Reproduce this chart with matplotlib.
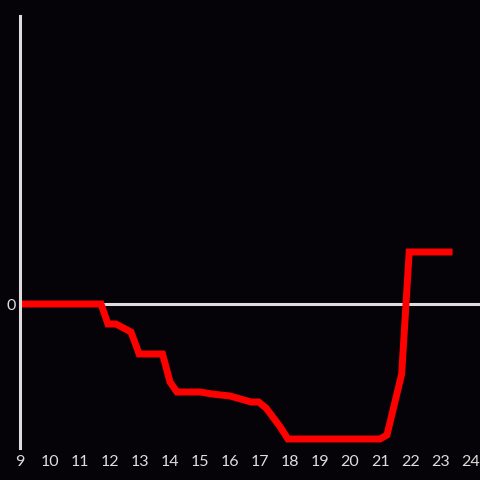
import matplotlib
matplotlib.use("Agg")
import matplotlib.pyplot as plt

plt.rcParams["font.family"] = ["Lato", "DejaVu Sans"]

# values (y in arbitrary units, 0 = baseline)
hours = [9, 11.7, 11.93, 12.2, 12.7, 12.97, 13.75, 14.0, 14.23, 15.0, 15.4,
         16.0, 16.7, 16.95, 17.2, 17.65, 17.93, 21.0, 21.23, 21.72, 21.97, 23.3]
values = [0, 0, -2.0, -2.0, -2.8, -5.0, -5.0, -7.8, -8.8, -8.8, -9.0,
          -9.2, -9.8, -9.8, -10.4, -12.2, -13.5, -13.5, -13.1, -7.0, 5.2, 5.2]
xticks = list(range(9, 25))

bg = "#050307"
fg = "#dddddd"

fig = plt.figure(figsize=(4.8, 4.8), dpi=100, facecolor=bg)
ax = fig.add_axes([20 / 480, 32 / 480, 460 / 480, 432 / 480], facecolor=bg)

ax.axhline(0, color=fg, lw=2.2, zorder=1)
ax.plot(hours, values, color="#ff0000", lw=5, solid_joinstyle="miter", zorder=2)

ax.set_xlim(9, 24.33)
ax.set_ylim(-14.4, 28.8)

for side in ["top", "right", "bottom"]:
    ax.spines[side].set_visible(False)
ax.spines["left"].set_color(fg)
ax.spines["left"].set_linewidth(2.2)

ax.set_xticks(xticks)
ax.set_xticklabels([str(t) for t in xticks])
ax.set_yticks([0])
ax.set_yticklabels(["0"])
ax.tick_params(length=0, colors=fg, labelsize=11.5)
ax.tick_params(axis="x", pad=5)
ax.tick_params(axis="y", pad=3)

fig.savefig("out.png", dpi=100, facecolor=bg)
